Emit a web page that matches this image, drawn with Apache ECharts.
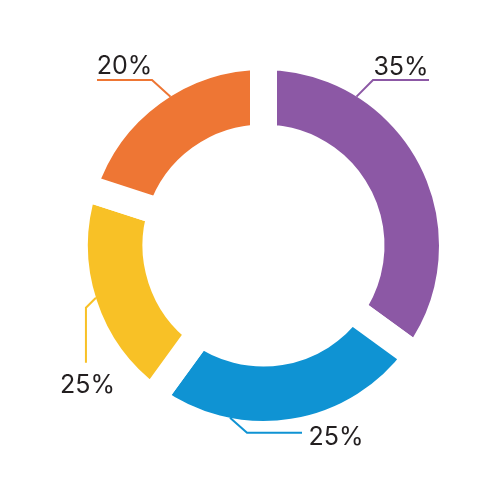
<!DOCTYPE html>
<html><head><meta charset="utf-8">
<script src="https://cdn.jsdelivr.net/npm/echarts@6/dist/echarts.min.js"></script>
<style>html,body{margin:0;padding:0;background:#fff}#c{width:500px;height:500px}</style>
</head><body><div id="c"></div>
<script>
// ---- data ----
const categories = ['Purple', 'Blue', 'Yellow', 'Orange'];
const values = [35, 25, 20, 20];
const labels = ['35%', '25%', '25%', '20%'];

// ---- styles / layout ----
const colors = ['#8C58A5', '#0F93D3', '#F8C126', '#EE7634'];
const CX = 263.5, CY = 245.5, R_OUT = 175.5, R_IN = 121, GAP = 27;
const leaders = [
  { angle: 32,    elbow: [16.5, -16.7], tail: [56, 0],  text: [401, 67],   align: 'center' },
  { angle: 191,   elbow: [17, 15],      tail: [55, 0],  text: [308.5, 437.5], align: 'left' },
  { angle: 252.7, elbow: [-10, 10],     tail: [0, 55],  text: [87.5, 385.5], align: 'center' },
  { angle: 328,   elbow: [-18.5, -16.7],tail: [-55, 0], text: [124.5, 66.5], align: 'center' }
];

const ringData = categories.map((c, i) => ({
  name: c, value: values[i], itemStyle: { color: colors[i] }
}));
const labelData = categories.map((c, i) => ({
  name: c, value: values[i],
  labelLine: { lineStyle: { color: colors[i] } }
}));

const chart = echarts.init(document.getElementById('c'), null, { renderer: 'canvas' });
chart.setOption({
  animation: false,
  backgroundColor: '#ffffff',
  series: [{
    type: 'pie',
    z: 1,
    center: [CX, CY],
    radius: [R_IN - GAP / 2, R_OUT + GAP / 2],
    startAngle: 90,
    clockwise: true,
    silent: true,
    itemStyle: { borderColor: '#ffffff', borderWidth: GAP, borderJoin: 'miter' },
    label: { show: false },
    labelLine: { show: false },
    data: ringData
  }, {
    type: 'pie',
    z: 5,
    center: [CX, CY],
    radius: [R_IN, R_OUT],
    startAngle: 90,
    clockwise: true,
    silent: true,
    itemStyle: { color: 'rgba(0,0,0,0)', borderWidth: 0 },
    label: {
      show: true,
      position: 'outside',
      overflow: 'none',
      fontFamily: 'Inter',
      fontSize: 25,
      fontWeight: 400,
      color: '#231F20',
      formatter: p => labels[p.dataIndex]
    },
    labelLine: { show: true, lineStyle: { width: 2 } },
    labelLayout: function (params) {
      const L = leaders[params.dataIndex];
      const a = L.angle * Math.PI / 180;
      const p0 = [CX + R_OUT * Math.sin(a), CY - R_OUT * Math.cos(a)];
      const p1 = [p0[0] + L.elbow[0], p0[1] + L.elbow[1]];
      const p2 = [p1[0] + L.tail[0], p1[1] + L.tail[1]];
      return {
        x: L.text[0], y: L.text[1],
        align: L.align, verticalAlign: 'middle',
        labelLinePoints: [p0, p1, p2]
      };
    },
    data: labelData
  }]
});
</script></body></html>
